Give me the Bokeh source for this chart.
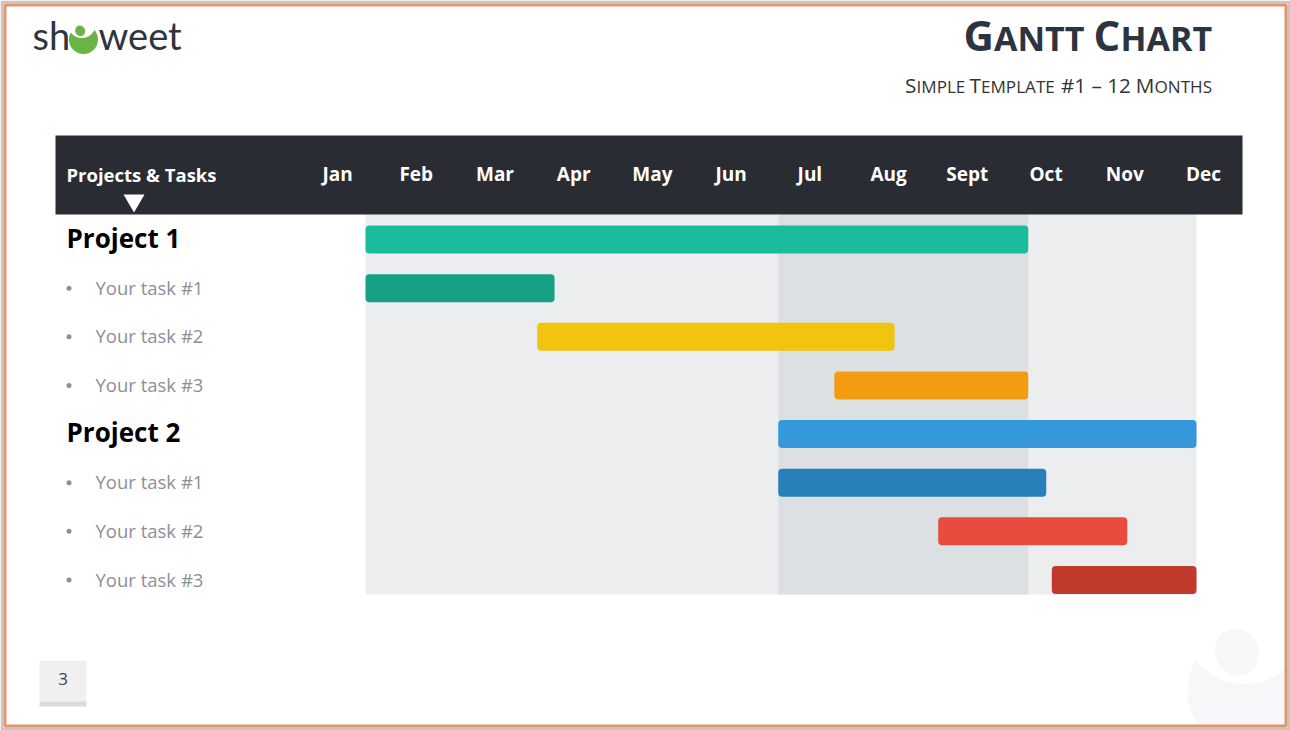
from bokeh.plotting import figure
from bokeh.models import Range1d
from bokeh.core.properties import value
from bokeh.embed import file_html
from bokeh.resources import INLINE

# ---------------- data ----------------
months = ["Jan", "Feb", "Mar", "Apr", "May", "Jun",
          "Jul", "Aug", "Sept", "Oct", "Nov", "Dec"]
row_labels = ["Project 1", "Your task #1", "Your task #2", "Your task #3",
              "Project 2", "Your task #1", "Your task #2", "Your task #3"]
row_kinds = ["project", "task", "task", "task",
             "project", "task", "task", "task"]
bar_starts = [0.0, 0.0, 2.48, 6.77, 5.96, 5.96, 8.27, 9.91]
bar_ends = [9.57, 2.73, 7.64, 9.57, 12.0, 9.83, 11.0, 12.0]
bar_colors = ["#1abc9c", "#16a085", "#f1c40f", "#f39c12",
              "#3498db", "#2980b9", "#e74c3c", "#c0392b"]
timeline_span = [0.0, 12.0]
highlight_span = [5.96, 9.57]

header_text = "Projects & Tasks"
page_number = "3"

FONT = value("Open Sans")
W, H = 1290, 730
FUDGE = 0.43  # baseline correction (fraction of font size)

p = figure(width=W, height=H,
           x_range=Range1d(-5.2708, 13.357),
           y_range=Range1d(10.095, -4.914),
           output_backend="svg", toolbar_location=None,
           x_axis_location=None, y_axis_location=None,
           min_border=0, background_fill_color="white",
           border_fill_color="white")
p.grid.visible = False
p.outline_line_color = None
p.extra_x_ranges = {"px": Range1d(0, W), "hdr": Range1d(-3.781, 12.605)}
p.extra_y_ranges = {"py": Range1d(H, 0)}
PX = dict(x_range_name="px", y_range_name="py")

rows = list(range(len(row_labels)))


def txt(x, y, text, size, color, bold=False, align="left", font=FONT,
        extra=0.0, **kw):
    p.text(x=x, y=y, text=text, text_color=color, text_font=font,
           text_font_style="bold" if bold else "normal",
           text_font_size=f"{size}px", text_baseline="alphabetic",
           text_align=align, y_offset=extra - FUDGE * size, **kw)


def draw_icon(cx, cy, r, color):
    p.circle(x=[cx], y=[cy], radius=r, fill_color=color, line_color=None, **PX)
    p.circle(x=[cx - 0.11 * r], y=[cy - 1.05 * r], radius=0.95 * r,
             fill_color="white", line_color=None, **PX)
    p.ellipse(x=[cx - 0.23 * r], y=[cy - 0.6 * r], width=0.68 * r, height=0.74 * r,
              angle=0.4, fill_color=color, line_color=None, **PX)


# ---------------- watermark (behind everything) ----------------
draw_icon(1251, 690, 64, "#f6f7f8")

# ---------------- frame border ----------------
p.quad(left=[1.5], right=[W - 1.5], top=[1.5], bottom=[H - 1.5],
       fill_color=None, line_color="#cbc4bf", line_width=3, **PX)
p.quad(left=[4.5], right=[W - 4.5], top=[4.5], bottom=[H - 4.5],
       fill_color=None, line_color="#e3956a", line_width=3, **PX)

# ---------------- background bands ----------------
p.quad(left=[timeline_span[0]], right=[timeline_span[1]], top=[-0.514], bottom=[7.30],
       fill_color="#ecedef", line_color=None)
p.quad(left=[highlight_span[0]], right=[highlight_span[1]], top=[-0.514], bottom=[7.30],
       fill_color="#dde0e3", line_color=None)

# ---------------- header band ----------------
p.quad(left=[55], right=[1242], top=[135], bottom=[214],
       fill_color="#2a2c33", line_color=None, **PX)
txt([66], [181.5], [header_text], 18.5, "white", bold=True, **PX)
p.scatter(x=[133.5], y=[200], marker="inverted_triangle", size=21,
          fill_color="white", line_color=None, **PX)
txt([i + 0.5 for i in range(len(months))], [181.5] * len(months), months, 19,
    "white", bold=True, align="center", x_range_name="hdr", y_range_name="py")

# ---------------- bars ----------------
p.hbar(y=rows, left=bar_starts, right=bar_ends, height=0.576,
       fill_color=bar_colors, line_color=None, border_radius=4)

# ---------------- row labels ----------------
proj_rows = [r for r, k in zip(rows, row_kinds) if k == "project"]
task_rows = [r for r, k in zip(rows, row_kinds) if k == "task"]
txt([66] * len(proj_rows), proj_rows, [row_labels[r] for r in proj_rows], 26,
    "black", bold=True, extra=9.5, x_range_name="px")
txt([95] * len(task_rows), task_rows, [row_labels[r] for r in task_rows], 18.5,
    "#8b9095", extra=7, x_range_name="px")
p.scatter(x=[68.5] * len(task_rows), y=task_rows, marker="circle", size=5,
          fill_color="#8b9095", line_color=None, x_range_name="px")

# ---------------- title (small caps) ----------------
TITLE_C = "#2c3440"
txt([963, 1093], [52, 52], ["G", "C"], 42, TITLE_C, bold=True, **PX)
txt([993.5, 1120], [52, 52], ["ANTT", "HART"], 34, TITLE_C, bold=True, **PX)

SUB_C = "#333333"
txt([904.6, 969, 1060.4, 1135.3], [93] * 4, ["S", "T", "#1 – 12", "M"],
    20.7, SUB_C, **PX)
txt([916, 980.5, 1154], [93] * 3, ["IMPLE", "EMPLATE", "ONTHS"], 17.1, SUB_C, **PX)

# ---------------- logo ----------------
txt([32, 98], [51, 51], ["sh", "weet"], 38, "#2d3640", font=value("Lato"), **PX)
draw_icon(83, 39, 14.5, "#6ab445")

# ---------------- page number ----------------
p.quad(left=[39], right=[86], top=[660], bottom=[701],
       fill_color="#f0f0f0", line_color=None, **PX)
p.quad(left=[39], right=[86], top=[701], bottom=[706],
       fill_color="#d9d9d9", line_color=None, **PX)
txt([62.5], [686], [page_number], 17, "#444444", align="center", **PX)

open("out.html", "w").write(file_html(p, INLINE))
